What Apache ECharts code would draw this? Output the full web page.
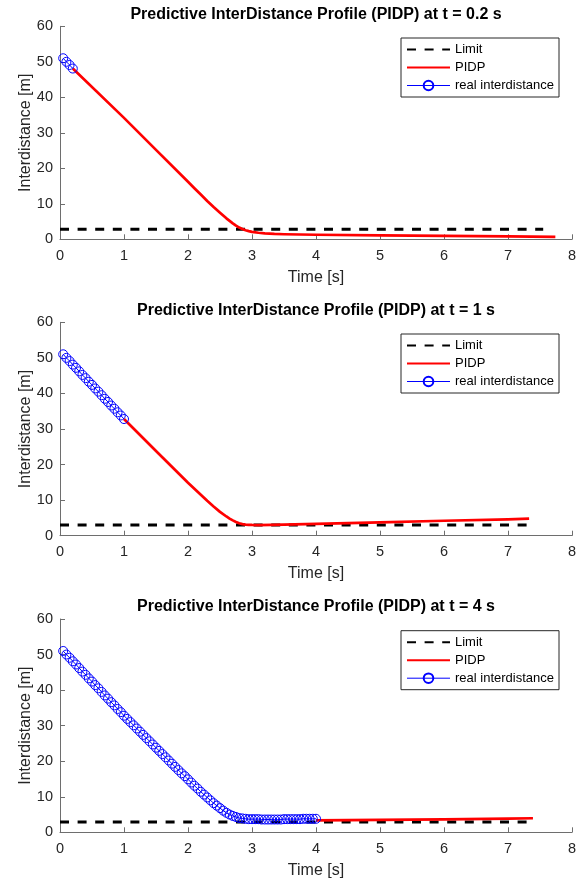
<!DOCTYPE html>
<html>
<head>
<meta charset="utf-8">
<script src="https://cdn.jsdelivr.net/npm/echarts@6/dist/echarts.min.js"></script>
<style>
  html, body { margin: 0; padding: 0; background: #fff; }
  #chart { width: 585px; height: 880px; }
</style>
</head>
<body>
<div id="chart"></div>
<script>
// Measured interdistance, sampled every 0.05 s (shared by all three snapshots)
const realTime = [
  0.05, 0.10, 0.15, 0.20, 0.25, 0.30, 0.35, 0.40, 0.45, 0.50,
  0.55, 0.60, 0.65, 0.70, 0.75, 0.80, 0.85, 0.90, 0.95, 1.00,
  1.05, 1.10, 1.15, 1.20, 1.25, 1.30, 1.35, 1.40, 1.45, 1.50,
  1.55, 1.60, 1.65, 1.70, 1.75, 1.80, 1.85, 1.90, 1.95, 2.00,
  2.05, 2.10, 2.15, 2.20, 2.25, 2.30, 2.35, 2.40, 2.45, 2.50,
  2.55, 2.60, 2.65, 2.70, 2.75, 2.80, 2.85, 2.90, 2.95, 3.00,
  3.05, 3.10, 3.15, 3.20, 3.25, 3.30, 3.35, 3.40, 3.45, 3.50,
  3.55, 3.60, 3.65, 3.70, 3.75, 3.80, 3.85, 3.90, 3.95, 4.00
];
const realDist = [
  51.0, 50.0, 49.1, 48.1, 47.2, 46.2, 45.2, 44.3, 43.3, 42.4,
  41.4, 40.5, 39.5, 38.5, 37.6, 36.6, 35.7, 34.7, 33.8, 32.8,
  31.9, 31.0, 30.1, 29.2, 28.3, 27.4, 26.5, 25.6, 24.7, 23.8,
  22.9, 22.0, 21.1, 20.2, 19.3, 18.4, 17.5, 16.6, 15.8, 14.9,
  14.0, 13.1, 12.3, 11.4, 10.6, 9.8, 9.0, 8.2, 7.5, 6.8,
  6.1, 5.5, 5.0, 4.6, 4.3, 4.0, 3.9, 3.8, 3.7, 3.7,
  3.7, 3.7, 3.6, 3.6, 3.6, 3.6, 3.6, 3.6, 3.6, 3.7,
  3.7, 3.7, 3.7, 3.7, 3.7, 3.8, 3.8, 3.8, 3.8, 3.8
];

// Snapshot times and number of measured samples available at each
const snapshotLabels = ['0.2', '1', '4'];
const realCounts = [4, 20, 80];

// Predicted profiles
const pidpTime1 = [0.2, 1.0, 1.5, 2.0, 2.1, 2.2, 2.3, 2.4, 2.5, 2.6, 2.65, 2.7, 2.75, 2.8, 2.85, 2.9, 2.95, 3.0, 3.1, 3.2, 3.35, 3.5, 4.0, 5.0, 6.0, 7.0, 7.74];
const pidpDist1 = [48.1, 34.2, 25.2, 16.2, 14.4, 12.6, 10.8, 9.1, 7.5, 5.9, 5.2, 4.5, 3.85, 3.3, 2.9, 2.55, 2.3, 2.1, 1.85, 1.68, 1.52, 1.42, 1.28, 1.1, 0.95, 0.8, 0.7];
const pidpTime2 = [1.0, 1.5, 2.0, 2.1, 2.2, 2.3, 2.4, 2.5, 2.6, 2.65, 2.7, 2.75, 2.8, 2.85, 2.9, 2.95, 3.0, 3.1, 3.3, 3.5, 4.0, 5.0, 6.0, 7.0, 7.33];
const pidpDist2 = [32.8, 23.8, 14.9, 13.2, 11.5, 9.8, 8.2, 6.7, 5.4, 4.8, 4.3, 3.85, 3.5, 3.25, 3.12, 3.05, 3.02, 3.0, 3.02, 3.1, 3.3, 3.75, 4.2, 4.6, 4.8];
const pidpTime3 = [4.0, 5.0, 6.0, 7.0, 7.39];
const pidpDist3 = [3.35, 3.5, 3.65, 3.85, 3.95];

// Safety limit
const limitTime1 = [0, 7.55];
const limitDist1 = [2.8, 2.8];
const limitTime2 = [0, 7.3];
const limitDist2 = [3.0, 3.0];
const limitTime3 = [0, 7.3];
const limitDist3 = [2.9, 2.9];

// Axis ranges
const xRange = [0, 8];
const xStep = 1;
const yRange = [0, 60];
const yStep = 10;

const legendNames = ['Limit', 'PIDP', 'real interdistance'];

const FONT = '"Liberation Sans", Arial, Helvetica, sans-serif';
const AXIS_COLOR = '#6e6e6e';
const TEXT_COLOR = '#262626';

const zip = (xs, ys) => xs.map((x, i) => [x, ys[i]]);

const panels = [
  { top: 26.3, height: 213, pidp: zip(pidpTime1, pidpDist1), limit: zip(limitTime1, limitDist1) },
  { top: 322.3, height: 213.4, pidp: zip(pidpTime2, pidpDist2), limit: zip(limitTime2, limitDist2) },
  { top: 619, height: 213.3, pidp: zip(pidpTime3, pidpDist3), limit: zip(limitTime3, limitDist3) }
];

const gridLeft = 60;
const gridWidth = 512;

const option = {
  animation: false,
  backgroundColor: '#fff',
  textStyle: { fontFamily: FONT },
  title: [],
  legend: [],
  grid: [],
  xAxis: [],
  yAxis: [],
  series: []
};

panels.forEach((p, i) => {
  option.title.push({
    text: 'Predictive InterDistance Profile (PIDP) at t = ' + snapshotLabels[i] + ' s',
    left: gridLeft + gridWidth / 2,
    top: p.top - 20,
    textAlign: 'center',
    padding: 0,
    textStyle: { fontFamily: FONT, fontSize: 16, fontWeight: 'bold', color: '#000' }
  });

  option.grid.push({ left: gridLeft, width: gridWidth, top: p.top, height: p.height, containLabel: false });

  option.xAxis.push({
    type: 'value',
    gridIndex: i,
    min: xRange[0], max: xRange[1], interval: xStep,
    name: 'Time [s]',
    nameLocation: 'middle',
    nameGap: 30,
    nameMoveOverlap: false,
    nameTextStyle: { fontFamily: FONT, fontSize: 16, color: TEXT_COLOR },
    axisLine: { show: true, onZero: false, lineStyle: { color: AXIS_COLOR, width: 1 } },
    axisTick: { show: true, inside: true, length: 5, lineStyle: { color: AXIS_COLOR } },
    axisLabel: { fontFamily: FONT, fontSize: 14.5, color: TEXT_COLOR, margin: 9 },
    splitLine: { show: false }
  });

  option.yAxis.push({
    type: 'value',
    gridIndex: i,
    min: yRange[0], max: yRange[1], interval: yStep,
    name: 'Interdistance [m]',
    nameLocation: 'middle',
    nameGap: 26,
    nameMoveOverlap: false,
    nameTextStyle: { fontFamily: FONT, fontSize: 16, color: TEXT_COLOR },
    axisLine: { show: true, onZero: false, lineStyle: { color: AXIS_COLOR, width: 1 } },
    axisTick: { show: true, inside: true, length: 5, lineStyle: { color: AXIS_COLOR } },
    axisLabel: { fontFamily: FONT, fontSize: 14.5, color: TEXT_COLOR, margin: 7 },
    splitLine: { show: false }
  });

  option.legend.push({
    data: [
      { name: legendNames[0], itemStyle: { opacity: 0 } },
      { name: legendNames[1], itemStyle: { opacity: 0 } },
      { name: legendNames[2], lineStyle: { width: 1, color: '#0000ff' } }
    ],
    orient: 'vertical',
    right: 26,
    top: p.top + 11.7,
    itemWidth: 43,
    itemHeight: 12,
    itemGap: 5,
    padding: [5, 5, 5, 5],
    borderColor: '#262626',
    borderWidth: 1,
    backgroundColor: '#fff',
    selectedMode: false,
    textStyle: { fontFamily: FONT, fontSize: 13, color: '#000' }
  });

  option.series.push({
    name: 'Limit',
    type: 'line',
    xAxisIndex: i, yAxisIndex: i,
    data: p.limit,
    symbol: 'none',
    lineStyle: { color: '#000', width: 3, type: [9, 8.6] },
    itemStyle: { color: '#000' },
    z: 2
  });

  option.series.push({
    name: 'PIDP',
    type: 'line',
    xAxisIndex: i, yAxisIndex: i,
    data: p.pidp,
    symbol: 'none',
    lineStyle: { color: '#ff0000', width: 2.7, join: 'round' },
    itemStyle: { color: '#ff0000' },
    z: 3
  });

  option.series.push({
    name: 'real interdistance',
    type: 'line',
    xAxisIndex: i, yAxisIndex: i,
    data: zip(realTime.slice(0, realCounts[i]), realDist.slice(0, realCounts[i])),
    symbol: 'circle',
    symbolSize: 9,
    showAllSymbol: true,
    lineStyle: { color: '#0000ff', width: 1 },
    itemStyle: { color: 'rgba(0,0,0,0)', borderColor: '#0000ff', borderWidth: 1 },
    z: 4
  });
});

const chart = echarts.init(document.getElementById('chart'), null, { renderer: 'canvas' });
chart.setOption(option);
</script>
</body>
</html>
